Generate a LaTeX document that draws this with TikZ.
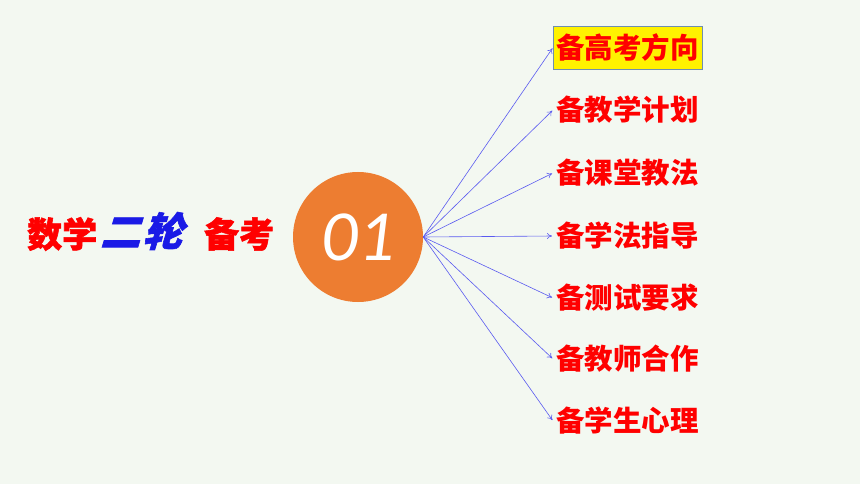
\documentclass[tikz,border=0pt]{standalone}
\usepackage{fontspec}
\newfontfamily\cjk{Noto Sans CJK SC}
\newfontfamily\cjkslant{Noto Sans CJK SC}[UprightFeatures={FakeSlant=0.3},BoldFeatures={FakeSlant=0.3,FakeBold=1.5},LetterSpace=6]
\newfontfamily\cjkheavy{Noto Sans CJK SC}[BoldFeatures={FakeBold=1.5}]
\setmainfont{Carlito}
\usetikzlibrary{arrows.meta}
\definecolor{bg}{HTML}{F3F8F1}
\definecolor{orng}{HTML}{ED7D31}
\definecolor{arr}{HTML}{5A5AF0}
\definecolor{boxline}{HTML}{6F8FAF}
\definecolor{ttlblue}{HTML}{1A1AE6}
\begin{document}
\begin{tikzpicture}[x=1pt,y=-1pt,
  item/.style={anchor=west,inner sep=3pt,text=red,font=\cjk\bfseries\fontsize{28.5}{30}\selectfont},
  link/.style={draw=arr,line width=0.6pt,-{To[length=5pt,width=6pt]},shorten >=1pt},
  ttl/.style={inner sep=0pt,font=\cjkheavy\bfseries\fontsize{35}{37}\selectfont}]
\fill[bg] (0,0) rectangle (860,484);
\useasboundingbox (0,0) rectangle (860,484);
\node[circle,fill=orng,minimum size=130pt,inner sep=0pt,text=white,font=\itshape\fontsize{72}{74}\selectfont] (c) at (358,237) {01};
\node[ttl,anchor=west,text=red] (t1) at (27,234) {数学};
\node[ttl,anchor=west,text=ttlblue,font=\cjkslant\bfseries\fontsize{40}{42}\selectfont] (t2) at (100,231) {二轮};
\node[ttl,anchor=west,text=red] (t3) at (204,234) {备考};
\node[item,fill=yellow,draw=boxline,line width=0.8pt,minimum height=43pt] (n1) at (553,47.5) {备高考方向};
\node[item] (n2) at (553,110) {备教学计划};
\node[item] (n3) at (553,173) {备课堂教法};
\node[item] (n4) at (553,236) {备学法指导};
\node[item] (n5) at (553,298) {备测试要求};
\node[item] (n6) at (553,359) {备教师合作};
\node[item] (n7) at (553,421) {备学生心理};
\foreach \n in {n1,n2,n3,n4,n5,n6,n7}{
  \draw[link] (c.east) -- (\n.west);
}
\end{tikzpicture}
\end{document}
